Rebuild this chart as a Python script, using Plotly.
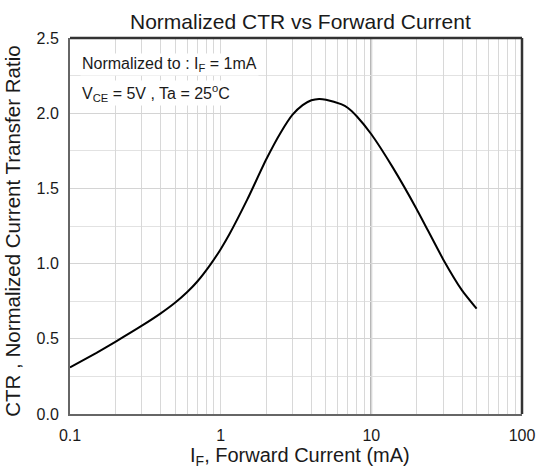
import plotly.graph_objects as go

# Data
forward_current_ma = [0.1, 0.15, 0.2, 0.3, 0.4, 0.5, 0.6, 0.7, 0.85, 1.0, 1.14, 1.5, 2.0, 2.5, 3.0,
                      3.5, 4.0, 4.5, 5.0, 6.3, 7.0, 8.0, 10.0, 13.9, 20.0, 30.0, 40.0, 50.0]
normalized_ctr = [0.31, 0.407, 0.48, 0.587, 0.669, 0.741, 0.811, 0.881, 0.99, 1.096, 1.193, 1.425, 1.69, 1.87, 1.99,
                  2.054, 2.086, 2.095, 2.09, 2.06, 2.035, 1.98, 1.86, 1.638, 1.362, 1.028, 0.822, 0.70]

x_major = [0.1, 1, 10, 100]
x_major_labels = ["0.1", "1", "10", "100"]
y_ticks = [0.0, 0.5, 1.0, 1.5, 2.0, 2.5]
y_tick_labels = ["0.0", "0.5", "1.0", "1.5", "2.0", "2.5"]

title_text = "Normalized CTR vs Forward Current"
x_title = "I<sub>F</sub>, Forward Current (mA)"
y_title = "CTR , Normalized Current Transfer Ratio"
note_1 = "Normalized to : I<sub>F</sub> = 1mA"
note_2 = "V<sub>CE</sub> = 5V , Ta = 25<sup>o</sup>C"

# gridline positions for log axis (1..9 per decade)
x_grid = []
for dec in [0.1, 1, 10]:
    for m in range(1, 10):
        x_grid.append(round(dec * m, 4))
x_grid.append(100)
x_grid_text = [x_major_labels[x_major.index(v)] if v in x_major else "" for v in x_grid]

fig = go.Figure()
fig.add_trace(go.Scatter(
    x=forward_current_ma, y=normalized_ctr, mode="lines",
    line=dict(color="black", width=2, shape="spline", smoothing=0.5),
    showlegend=False, hoverinfo="skip"))

font = "Liberation Sans, Arial, sans-serif"
fig.update_layout(
    width=547, height=472,
    margin=dict(l=70, r=15, t=38, b=58),
    paper_bgcolor="white", plot_bgcolor="white",
    font=dict(family=font, color="#1a1a1a", size=16),
    xaxis=dict(type="log", range=[-1, 2], tickmode="array", tickvals=x_grid, ticktext=x_grid_text,
               showgrid=True, gridcolor="#d8d8d8", gridwidth=1, ticks="", zeroline=False,
               showline=True, linecolor="#666666", linewidth=2, mirror=False,
               tickfont=dict(size=16), ticklabelstandoff=6),
    yaxis=dict(range=[0, 2.5], tickmode="array", tickvals=y_ticks, ticktext=y_tick_labels,
               showgrid=True, gridcolor="#d4d4d4", gridwidth=1, ticks="", zeroline=False,
               showline=True, linecolor="#666666", linewidth=2,
               minor=dict(dtick=0.25, showgrid=True, gridcolor="#e2e2e2", gridwidth=1),
               tickfont=dict(size=16), ticklabelstandoff=6),
)

# dark line at 10 mA, dark top and right borders
fig.add_shape(type="line", xref="x", yref="paper", x0=10, x1=10, y0=0, y1=1,
              line=dict(color="#555555", width=1.5), layer="below")
fig.add_shape(type="line", xref="paper", yref="paper", x0=0, x1=1, y0=1, y1=1,
              line=dict(color="#333333", width=2.5))
fig.add_shape(type="line", xref="paper", yref="paper", x0=1, x1=1, y0=0, y1=1,
              line=dict(color="#333333", width=2.5))

# title and axis titles
fig.add_annotation(xref="paper", yref="paper", x=0.509, y=1.043, xanchor="center", yanchor="middle",
                   text=title_text, showarrow=False, font=dict(size=21))
fig.add_annotation(xref="paper", yref="paper", x=0.509, y=-0.112, xanchor="center", yanchor="middle",
                   text=x_title, showarrow=False, font=dict(size=20))
fig.add_annotation(xref="paper", yref="paper", x=-0.128, y=0.485, xanchor="center", yanchor="middle",
                   text=y_title, showarrow=False, textangle=-90, font=dict(size=20.5))

# condition notes
fig.add_annotation(xref="paper", yref="paper", x=0.022, y=0.93, xanchor="left", yanchor="middle",
                   text=note_1, showarrow=False, font=dict(size=16), bgcolor="white")
fig.add_annotation(xref="paper", yref="paper", x=0.022, y=0.855, xanchor="left", yanchor="middle",
                   text=note_2, showarrow=False, font=dict(size=16), bgcolor="white")

fig.write_html("out.html")
